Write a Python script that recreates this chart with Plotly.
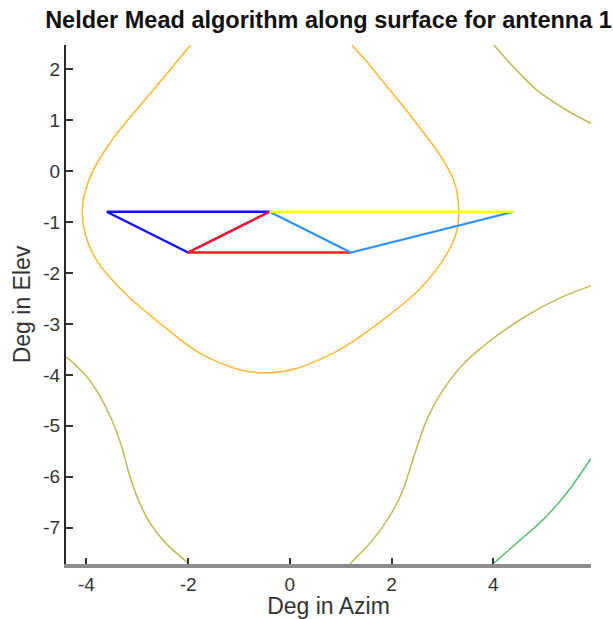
import plotly.graph_objects as go

# Simplex vertices (Nelder-Mead steps)
tri_blue_x = [-3.6, -0.4, -2.0, -3.6]
tri_blue_y = [-0.8, -0.8, -1.6, -0.8]
tri_red_x = [-0.4, -2.0, 1.2]
tri_red_y = [-0.8, -1.6, -1.6]
tri_lblue_x = [-0.4, 1.2, 4.4]
tri_lblue_y = [-0.8, -1.6, -0.8]
tri_yellow_x = [-0.4, 4.4]
tri_yellow_y = [-0.8, -0.8]

# Contour lines
orange_x = [-1.95, -2.39, -2.80, -3.22, -3.59, -3.88, -4.04, -4.08, -4.02, -3.80, -3.33, -2.59,
            -1.78, -0.99, -0.41, 0.18, 0.97, 1.83, 2.54, 3.01, 3.27, 3.32, 3.25, 3.01, 2.66,
            2.25, 1.85, 1.50, 1.22]
orange_y = [2.47, 1.94, 1.45, 0.96, 0.47, -0.02, -0.47, -0.80, -1.25, -1.75, -2.31, -2.96,
            -3.57, -3.90, -3.96, -3.86, -3.51, -2.92, -2.33, -1.75, -1.22, -0.76, -0.27, 0.22, 0.71,
            1.24, 1.73, 2.16, 2.47]

olive1_x = [3.97, 4.33, 4.85, 5.38, 5.92]
olive1_y = [2.52, 2.11, 1.59, 1.23, 0.93]

olive2_x = [-4.39, -4.04, -3.75, -3.51, -3.31, -3.16, -2.98, -2.74, -2.43, -2.00]
olive2_y = [-3.65, -3.98, -4.39, -4.86, -5.39, -5.94, -6.45, -6.92, -7.31, -7.69]

olive3_x = [1.18, 1.62, 1.97, 2.21, 2.37, 2.52, 2.72, 2.99, 3.38, 3.94, 4.62, 5.31, 5.92]
olive3_y = [-7.71, -7.25, -6.76, -6.29, -5.82, -5.35, -4.82, -4.33, -3.82, -3.33, -2.86, -2.49, -2.25]

green_x = [3.99, 4.46, 4.98, 5.44, 5.92]
green_y = [-7.71, -7.30, -6.84, -6.32, -5.64]

x_ticks = [-4, -2, 0, 2, 4]
x_ticktext = ["-4", "-2", "0", "2", "4"]
y_ticks = [2, 1, 0, -1, -2, -3, -4, -5, -6, -7]
y_ticktext = ["2", "1", "0", "-1", "-2", "-3", "-4", "-5", "-6", "-7"]

ORANGE = "#f9b936"
OLIVE = "#c3bc5c"
GREEN = "#5cc07c"

fig = go.Figure()

def add_line(x, y, color, width, shape="linear"):
    fig.add_trace(go.Scatter(x=x, y=y, mode="lines",
                             line=dict(color=color, width=width, shape=shape, smoothing=0.8),
                             showlegend=False, hoverinfo="skip"))

add_line(orange_x, orange_y, ORANGE, 1.6, "spline")
add_line(olive1_x, olive1_y, OLIVE, 1.6, "spline")
add_line(olive2_x, olive2_y, OLIVE, 1.6, "spline")
add_line(olive3_x, olive3_y, OLIVE, 1.6, "spline")
add_line(green_x, green_y, GREEN, 1.6, "spline")

add_line(tri_blue_x, tri_blue_y, "#1010ff", 2.4)
add_line(tri_red_x, tri_red_y, "#ff1a1a", 2.4)
add_line(tri_lblue_x, tri_lblue_y, "#3394ff", 2.2)
add_line(tri_yellow_x, tri_yellow_y, "#ffff1a", 2.4)

FONT = "Liberation Sans, Arial, Helvetica, sans-serif"

fig.update_layout(
    width=613, height=619,
    margin=dict(l=66, r=22, t=45, b=55, autoexpand=False),
    paper_bgcolor="white", plot_bgcolor="white",
    font=dict(family=FONT, color="#333333", size=19),
    title=dict(text="<b>Nelder Mead algorithm along surface for antenna 1</b>",
               font=dict(family=FONT, size=23.5, color="#111111"),
               x=(66 + 591) / 2 / 613, xanchor="center",
               yref="container", y=1 - 20 / 619, yanchor="middle"),
    xaxis=dict(range=[-4.4, 5.92], tickvals=x_ticks, ticktext=x_ticktext, automargin=False,
               showgrid=False, zeroline=False, showline=True, linecolor="#8c8c8c", linewidth=4,
               ticks="inside", ticklen=6, tickwidth=2, tickcolor="#333333",
               title=dict(text="Deg in Azim", font=dict(size=23, color="#333333"), standoff=4)),
    yaxis=dict(range=[-7.71, 2.47], tickvals=y_ticks, ticktext=y_ticktext, automargin=False,
               showgrid=False, zeroline=False, showline=True, linecolor="#262626", linewidth=2,
               ticks="inside", ticklen=7, tickwidth=2, tickcolor="#333333",
               title=dict(text="Deg in Elev", font=dict(size=23, color="#333333"), standoff=6)),
)

fig.write_html("out.html")
